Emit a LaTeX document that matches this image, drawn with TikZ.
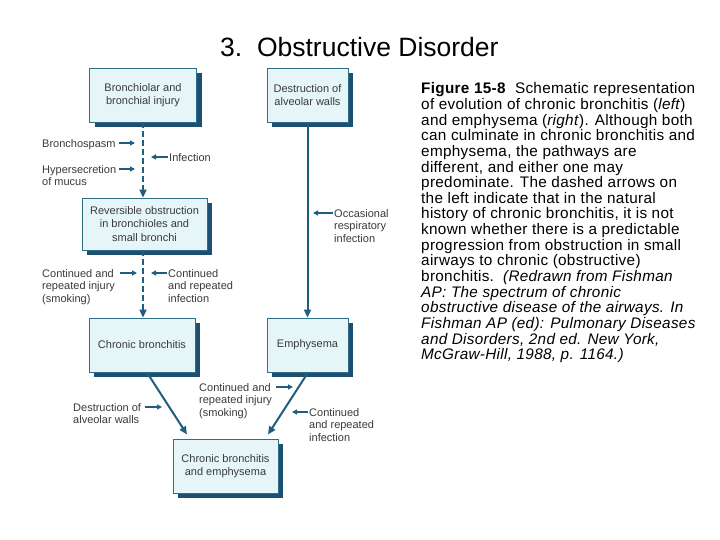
\documentclass[tikz,border=0pt]{standalone}
\usepackage{fontspec}
\setmainfont{Liberation Sans}
\newfontfamily\capfont[LetterSpace=2]{Liberation Sans}
\usetikzlibrary{arrows.meta,shadows}
\definecolor{boxfill}{HTML}{E6F5F7}
\definecolor{boxedge}{HTML}{2F6E88}
\definecolor{shadowcol}{HTML}{1D4F70}
\definecolor{arrowcol}{HTML}{1E5F7E}
\definecolor{lbl}{HTML}{3A3A3A}
\tikzset{
  stagebox/.style={draw=boxedge, fill=boxfill, line width=0.9pt, align=center,
    text=lbl, font=\fontsize{11}{13.5}\selectfont, inner sep=0pt,
    drop shadow={shadow xshift=5pt, shadow yshift=-5pt, fill=shadowcol, opacity=1}},
  mainarrow/.style={draw=arrowcol, line width=2pt, -{Triangle[length=8pt,width=7pt]}},
  dasharrow/.style={mainarrow, dash pattern=on 6pt off 3pt},
  sidearrow/.style={draw=arrowcol, line width=1.6pt, -{Triangle[length=5pt,width=5pt]}},
  sidelabel/.style={text=lbl, font=\fontsize{11}{12.8}\selectfont, align=left, inner sep=0pt, anchor=north west},
}
\begin{document}
\begin{tikzpicture}[x=1pt,y=-1pt]
\useasboundingbox (0,0) rectangle (720,540);
\fill[white] (0,0) rectangle (720,540);

% title
\node[anchor=base west, inner sep=0pt, font=\fontsize{26.5}{30}\selectfont] (title) at (220,57) {3.\ \ Obstructive Disorder};

% boxes
\node[stagebox, minimum width=107pt, minimum height=54pt] (b1) at (143,95) {Bronchiolar and\\bronchial injury};
\node[stagebox, minimum width=81pt, minimum height=54pt] (b2) at (307.5,95) {Destruction of\\alveolar walls};
\node[stagebox, minimum width=125pt, minimum height=52pt] (b3) at (144.5,224) {Reversible obstruction\\in bronchioles and\\small bronchi};
\node[stagebox, minimum width=106pt, minimum height=54pt] (b4) at (142,345) {Chronic bronchitis};
\node[stagebox, minimum width=81pt, minimum height=54pt] (b5) at (307.5,345) {Emphysema};
\node[stagebox, minimum width=105pt, minimum height=54pt] (b6) at (225.5,466) {Chronic bronchitis\\and emphysema};

% main connectors
\draw[dasharrow] (b1.south -| 143,0) -- (b3.north -| 143,0);
\draw[dasharrow] (b3.south -| 143,0) -- (b4.north -| 143,0);
\draw[mainarrow] (b2.south) -- (b5.north);
\draw[mainarrow] (147,372.5) coordinate (b4out) -- (187,434.5) coordinate (b6inl);
\draw[mainarrow] (308,372.5) coordinate (b5out) -- (268,434.5) coordinate (b6inr);

% side labels
\node[sidelabel] (l1) at (42,139) {Bronchospasm};
\coordinate (t1) at (135,143);
\draw[sidearrow] (l1.east |- t1) ++(3,0) -- (t1);

\node[sidelabel] (l2) at (169,153) {Infection};
\coordinate (t2) at (151,157);
\draw[sidearrow] (l2.west |- t2) ++(-1,0) -- (t2);

\node[sidelabel] (l3) at (42,165) {Hypersecretion\\of mucus};
\coordinate (t3) at (135,169);
\draw[sidearrow] (l3.east |- t3) ++(3,0) -- (t3);

\node[sidelabel] (l4) at (334,209) {Occasional\\respiratory\\infection};
\coordinate (t4) at (313,213);
\draw[sidearrow] (l4.west |- t4) ++(-1,0) -- (t4);

\node[sidelabel] (l5) at (42,269) {Continued and\\repeated injury\\(smoking)};
\coordinate (t5) at (137,273);
\draw[sidearrow] (120,273) -- (t5);

\node[sidelabel] (l6) at (168,269) {Continued\\and repeated\\infection};
\coordinate (t6) at (151,273);
\draw[sidearrow] (l6.west |- t6) ++(-1,0) -- (t6);

\node[sidelabel] (l7) at (73,403) {Destruction of\\alveolar walls};
\coordinate (t7) at (162,407);
\draw[sidearrow] (145,407) -- (t7);

\node[sidelabel] (l8) at (199,383) {Continued and\\repeated injury\\(smoking)};
\coordinate (t8) at (293,387);
\draw[sidearrow] (276,387) -- (t8);

\node[sidelabel] (l9) at (309,408) {Continued\\and repeated\\infection};
\coordinate (t9) at (292,412);
\draw[sidearrow] (l9.west |- t9) ++(-1,0) -- (t9);

% caption
\node[anchor=north west, inner sep=0pt, align=left, font=\capfont\fontsize{15.3}{15.65}\selectfont] (cap) at (421,82.5)
{\textbf{Figure 15-8}\ \ Schematic representation\\
of evolution of chronic bronchitis (\textit{left})\\
and emphysema (\textit{right}). Although both\\
can culminate in chronic bronchitis and\\
emphysema, the pathways are\\
different, and either one may\\
predominate. The dashed arrows on\\
the left indicate that in the natural\\
history of chronic bronchitis, it is not\\
known whether there is a predictable\\
progression from obstruction in small\\
airways to chronic (obstructive)\\
bronchitis.\ \ \textit{(Redrawn from Fishman}\\
\textit{AP: The spectrum of chronic}\\
\textit{obstructive disease of the airways. In}\\
\textit{Fishman AP (ed): Pulmonary Diseases}\\
\textit{and Disorders, 2nd ed. New York,}\\
\textit{McGraw-Hill, 1988, p. 1164.)}};
\end{tikzpicture}
\end{document}
